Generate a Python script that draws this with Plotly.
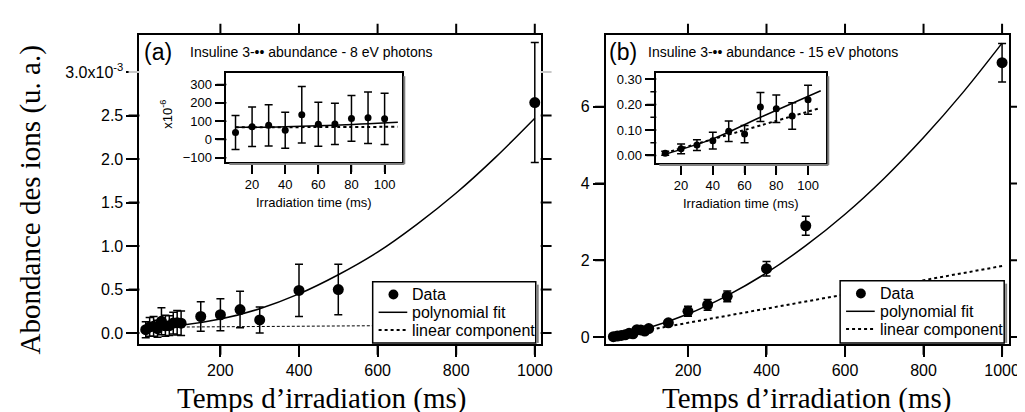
import plotly.graph_objects as go

# data
t_short = [10, 20, 30, 40, 50, 60, 70, 80, 90, 100]
t_long = [150, 200, 250, 300, 400, 500, 1000]
fit_t = [0, 100, 200, 300, 400, 500, 600, 700, 800, 900, 1000]
lin_t = [0, 1000]
ins_t = [10, 40, 70, 108]

# (a) 8 eV : short times in 1e-6, long times in 1e-3
a_short_y = [38, 70, 77, 50, 135, 83, 85, 115, 119, 113]
a_short_err = [93, 108, 113, 98, 155, 120, 113, 125, 141, 140]
a_long_y = [0.19, 0.21, 0.27, 0.15, 0.49, 0.50, 2.65]
a_long_err = [0.17, 0.185, 0.21, 0.15, 0.30, 0.29, 0.69]
a_poly = [0.066, 0.09, 0.16, 0.28, 0.45, 0.67, 0.93, 1.25, 1.61, 2.02, 2.47]
a_lin = [0.066, 0.096]
ins_a_poly = [66, 70, 78, 94]
ins_a_lin = [66, 67, 68, 69]

# (b) 15 eV
b_short_y = [0.009, 0.026, 0.041, 0.058, 0.095, 0.084, 0.19, 0.183, 0.155, 0.219]
b_short_err = [0.008, 0.019, 0.021, 0.033, 0.04, 0.034, 0.057, 0.054, 0.052, 0.057]
b_long_y = [0.37, 0.67, 0.84, 1.06, 1.78, 2.90, 7.15]
b_long_err = [0.06, 0.13, 0.14, 0.14, 0.19, 0.25, 0.5]
b_poly = [0, 0.243, 0.60, 1.08, 1.67, 2.38, 3.20, 4.14, 5.20, 6.37, 7.66]
b_lin = [0, 1.85]
ins_b_poly = [0.005, 0.065, 0.15, 0.254]
ins_b_lin = [0.01, 0.064, 0.118, 0.187]

legend_labels = ["Data", "polynomial fit", "linear component"]

# tick values
x_ticks = [200, 400, 600, 800, 1000]
a_yticks = [0, 0.5, 1.0, 1.5, 2.0, 2.5]
a_ytext = ["0.0", "0.5", "1.0", "1.5", "2.0", "2.5"]
a_top_tick = [3.0]
a_top_text = ["3.0x10<sup>-3</sup>"]
b_yticks = [0, 2, 4, 6]
ins_xticks = [20, 40, 60, 80, 100]
ins_a_yticks = [-100, 0, 100, 200, 300]
ins_b_yticks = [0, 0.1, 0.2, 0.3]
ins_b_minor = [0.05, 0.15, 0.25]

W, H = 1025, 412
SANS = "Liberation Sans"
SERIF = "Liberation Serif"


def px(x):
    return x / W


def py(y):
    return 1 - y / H


fig = go.Figure()


def data_trace(x, y, err, xa, ya, size, cap):
    return go.Scatter(
        x=x, y=y, mode="markers", name="Data", xaxis=xa, yaxis=ya,
        marker=dict(color="black", size=size),
        error_y=dict(type="data", array=err, color="black", thickness=1.5, width=cap),
        showlegend=False)


def line_trace(x, y, xa, ya, name, dash, width):
    return go.Scatter(
        x=x, y=y, mode="lines", name=name, xaxis=xa, yaxis=ya,
        line=dict(color="black", width=width, dash=dash, shape="spline"),
        showlegend=False)


# panel (a) main
a_main_x = t_short + t_long
a_main_y = [v / 1000 for v in a_short_y] + a_long_y
a_main_e = [v / 1000 for v in a_short_err] + a_long_err
fig.add_trace(line_trace(fit_t, a_poly, "x", "y", "polynomial fit", "solid", 1.5))
fig.add_trace(line_trace(lin_t, a_lin, "x", "y", "linear component", "3px,2px", 1))
fig.add_trace(data_trace(a_main_x, a_main_y, a_main_e, "x", "y", 11, 4))

# panel (b) main
b_main_x = t_short + t_long
b_main_y = b_short_y + b_long_y
b_main_e = b_short_err + b_long_err
fig.add_trace(line_trace(fit_t, b_poly, "x2", "y2", "polynomial fit", "solid", 1.5))
fig.add_trace(line_trace(lin_t, b_lin, "x2", "y2", "linear component", "dot", 2))
fig.add_trace(data_trace(b_main_x, b_main_y, b_main_e, "x2", "y2", 11, 4))

# insets
fig.add_trace(line_trace(ins_t, ins_a_poly, "x3", "y3", "polynomial fit", "solid", 1.5))
fig.add_trace(line_trace(ins_t, ins_a_lin, "x3", "y3", "linear component", "dot", 2))
fig.add_trace(data_trace(t_short, a_short_y, a_short_err, "x3", "y3", 7, 4))
fig.add_trace(line_trace(ins_t, ins_b_poly, "x4", "y4", "polynomial fit", "solid", 1.5))
fig.add_trace(line_trace(ins_t, ins_b_lin, "x4", "y4", "linear component", "dot", 2))
fig.add_trace(data_trace(t_short, b_short_y, b_short_err, "x4", "y4", 7, 4))

# axes: frame + labels, tick marks are drawn as shapes below
main_ax = dict(showline=True, linecolor="black", linewidth=2, mirror=True,
               ticks="outside", ticklen=11, tickwidth=2, tickcolor="black",
               showgrid=False, zeroline=False,
               tickfont=dict(family=SANS, size=16, color="black"))
ins_ax = dict(showline=True, linecolor="black", linewidth=1.5, mirror=True,
              ticks="outside", ticklen=10, tickwidth=1.5, tickcolor="black",
              showgrid=False, zeroline=False,
              tickfont=dict(family=SANS, size=13, color="black"))

a_xrange, a_yrange = [-6, 1015], [-0.125, 3.43]
b_xrange, b_yrange = [-9, 1018], [-0.18, 7.88]
ins_a_xrange, ins_a_yrange = [4.5, 110.7], [-124, 362]
ins_b_xrange, ins_b_yrange = [4.4, 111.5], [-0.03, 0.323]

# pixel boxes (left, top, right, bottom)
box_a = (133, 25, 539, 338)
box_b = (605, 25, 1013, 338)
box_ia = (221, 64, 399, 154)
box_ib = (656, 64, 828, 155)


def dom(box):
    l, t, r, b = box
    return [px(l), px(r)], [py(b), py(t)]


da_x, da_y = dom(box_a)
db_x, db_y = dom(box_b)
dia_x, dia_y = dom(box_ia)
dib_x, dib_y = dom(box_ib)

fig.update_layout(
    width=W, height=H, margin=dict(l=0, r=0, t=0, b=0),
    paper_bgcolor="white", plot_bgcolor="white", showlegend=False,
    xaxis=dict(main_ax, domain=da_x, range=a_xrange, tickvals=x_ticks, anchor="y"),
    yaxis=dict(main_ax, domain=da_y, range=a_yrange,
               tickvals=a_yticks + a_top_tick, ticktext=a_ytext + a_top_text, anchor="x"),
    xaxis2=dict(main_ax, domain=db_x, range=b_xrange, tickvals=x_ticks, anchor="y2"),
    yaxis2=dict(main_ax, domain=db_y, range=b_yrange, tickvals=b_yticks, anchor="x2"),
    xaxis3=dict(ins_ax, domain=dia_x, range=ins_a_xrange, tickvals=ins_xticks, anchor="y3"),
    yaxis3=dict(ins_ax, domain=dia_y, range=ins_a_yrange, tickvals=ins_a_yticks, anchor="x3"),
    xaxis4=dict(ins_ax, domain=dib_x, range=ins_b_xrange, tickvals=ins_xticks, anchor="y4"),
    yaxis4=dict(ins_ax, domain=dib_y, range=ins_b_yrange, tickvals=ins_b_yticks,
                tickformat=".2f", anchor="x4"),
)

shapes = []


def ticks_x(xa, ya, vals, box, length, width, color="black", top=False):
    l, t, r, b = box
    h = b - t
    for v in vals:
        shapes.append(dict(type="line", xref=xa, yref=ya + " domain", layer="above",
                           x0=v, x1=v, y0=0, y1=-length / h,
                           line=dict(color=color, width=width)))
        if top:
            shapes.append(dict(type="line", xref=xa, yref=ya + " domain", layer="above",
                               x0=v, x1=v, y0=1, y1=1 + length / h,
                               line=dict(color=color, width=width)))


def ticks_y(xa, ya, vals, box, length, width, color="black", right=False):
    l, t, r, b = box
    w = r - l
    for v in vals:
        shapes.append(dict(type="line", xref=xa + " domain", yref=ya, layer="above",
                           x0=0, x1=-length / w, y0=v, y1=v,
                           line=dict(color=color, width=width)))
        if right:
            shapes.append(dict(type="line", xref=xa + " domain", yref=ya, layer="above",
                               x0=1, x1=1 + length / w, y0=v, y1=v,
                               line=dict(color=color, width=width)))


ticks_x("x", "y", x_ticks, box_a, 11, 2, top=True)
ticks_y("x", "y", a_yticks, box_a, 11, 2, right=True)
ticks_y("x", "y", a_top_tick, box_a, 11, 2, color="#c8c8c8", right=True)
ticks_x("x2", "y2", x_ticks, box_b, 11, 2, top=True)
ticks_y("x2", "y2", b_yticks, box_b, 11, 2, right=True)
ticks_x("x3", "y3", ins_xticks, box_ia, 10, 1.5)
ticks_y("x3", "y3", ins_a_yticks, box_ia, 10, 1.5)
ticks_x("x4", "y4", ins_xticks, box_ib, 10, 1.5)
ticks_y("x4", "y4", ins_b_yticks, box_ib, 10, 1.5)
ticks_y("x4", "y4", ins_b_minor, box_ib, 6, 1.5)

ann = [
    dict(text="(a)", x=px(136), y=py(43), xanchor="left", yanchor="middle",
         font=dict(family=SANS, size=23)),
    dict(text="Insuline 3-•• abundance - 8 eV photons", x=px(182), y=py(43),
         xanchor="left", yanchor="middle", font=dict(family=SANS, size=14)),
    dict(text="(b)", x=px(606), y=py(43), xanchor="left", yanchor="middle",
         font=dict(family=SANS, size=23)),
    dict(text="Insuline 3-•• abundance - 15 eV photons", x=px(646), y=py(43),
         xanchor="left", yanchor="middle", font=dict(family=SANS, size=14)),
    dict(text="Irradiation time (ms)", x=px(310), y=py(195), xanchor="center",
         yanchor="middle", font=dict(family=SANS, size=13)),
    dict(text="Irradiation time (ms)", x=px(742), y=py(196), xanchor="center",
         yanchor="middle", font=dict(family=SANS, size=13)),
    dict(text="x10<sup>-6</sup>", x=px(160), y=py(106), xanchor="center",
         yanchor="middle", textangle=-90, font=dict(family=SANS, size=13)),
    dict(text="Temps d’irradiation (ms)", x=px(318), y=0, xanchor="center",
         yanchor="bottom", font=dict(family=SERIF, size=29)),
    dict(text="Temps d’irradiation (ms)", x=px(808), y=0, xanchor="center",
         yanchor="bottom", font=dict(family=SERIF, size=29)),
    dict(text="Abondance des ions (u. a.)", x=px(23), y=py(192), xanchor="center",
         yanchor="middle", textangle=-90, font=dict(family=SERIF, size=29)),
]

shadow = dict(type="line", xref="paper", yref="paper", layer="above",
              line=dict(color="#808080", width=2))
for (l, t, r, b) in [box_ia, box_ib]:
    shapes.append(dict(shadow, x0=px(r + 2), x1=px(r + 2), y0=py(t + 3), y1=py(b + 2)))
    shapes.append(dict(shadow, x0=px(l + 3), x1=px(r + 2), y0=py(b + 2), y1=py(b + 2)))

# hand-built legends (box, samples, labels)
for (l, t, r, b, rows) in [(369, 275, 534, 337, [288, 306, 324]),
                           (842, 274, 1008, 337, [287, 305, 323])]:
    shapes.append(dict(type="rect", xref="paper", yref="paper", layer="above",
                       x0=px(l), x1=px(r), y0=py(b), y1=py(t),
                       fillcolor="white", line=dict(color="black", width=1.5)))
    shapes.append(dict(shadow, x0=px(r + 2), x1=px(r + 2), y0=py(t + 3), y1=py(b)))
    mx = l + 21
    shapes.append(dict(type="circle", xref="paper", yref="paper", layer="above",
                       x0=px(mx - 5), x1=px(mx + 5), y0=py(rows[0] + 5), y1=py(rows[0] - 5),
                       fillcolor="black", line=dict(color="black", width=0)))
    shapes.append(dict(type="line", xref="paper", yref="paper", layer="above",
                       x0=px(l + 6), x1=px(l + 35), y0=py(rows[1]), y1=py(rows[1]),
                       line=dict(color="black", width=1.5)))
    shapes.append(dict(type="line", xref="paper", yref="paper", layer="above",
                       x0=px(l + 6), x1=px(l + 35), y0=py(rows[2]), y1=py(rows[2]),
                       line=dict(color="black", width=2, dash="dot")))
    for lab, ry in zip(legend_labels, rows):
        ann.append(dict(text=lab, x=px(l + 38), y=py(ry), xanchor="left",
                        yanchor="middle", font=dict(family=SANS, size=16)))

for a in ann:
    a.update(xref="paper", yref="paper", showarrow=False)
    a["font"]["color"] = "black"
fig.update_layout(annotations=ann, shapes=shapes)

fig.write_html("out.html")
